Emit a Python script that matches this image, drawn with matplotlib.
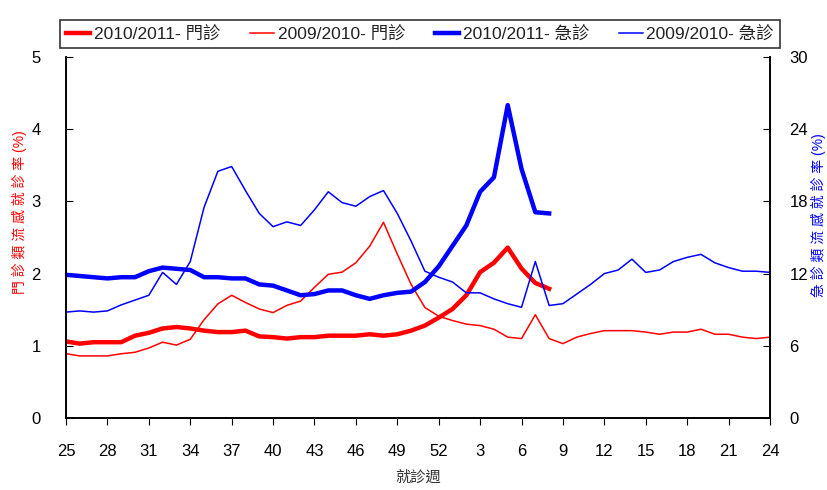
import matplotlib
matplotlib.use("Agg")
import matplotlib.pyplot as plt
from matplotlib import font_manager as fm

weeks = list(range(25, 53)) + list(range(1, 25))
tick_weeks = [25, 28, 31, 34, 37, 40, 43, 46, 49, 52, 3, 6, 9, 12, 15, 18, 21, 24]

op_2010 = [1.06, 1.03, 1.05, 1.05, 1.05, 1.14, 1.18, 1.24, 1.26, 1.24,
           1.21, 1.19, 1.19, 1.21, 1.13, 1.12, 1.10, 1.12, 1.12, 1.14,
           1.14, 1.14, 1.16, 1.14, 1.16, 1.21, 1.28, 1.39, 1.51, 1.70,
           2.02, 2.15, 2.36, 2.07, 1.87, 1.79]
op_2009 = [0.89, 0.86, 0.86, 0.86, 0.89, 0.91, 0.97, 1.05, 1.01, 1.09,
           1.36, 1.58, 1.70, 1.60, 1.51, 1.46, 1.56, 1.62, 1.81, 1.99,
           2.02, 2.15, 2.38, 2.71, 2.27, 1.85, 1.53, 1.41, 1.35, 1.30,
           1.28, 1.23, 1.12, 1.10, 1.43, 1.10, 1.03, 1.12, 1.17, 1.21,
           1.21, 1.21, 1.19, 1.16, 1.19, 1.19, 1.23, 1.16, 1.16, 1.12,
           1.10, 1.12]
ed_2010 = [11.9, 11.8, 11.7, 11.6, 11.7, 11.7, 12.2, 12.5, 12.4, 12.3,
           11.7, 11.7, 11.6, 11.6, 11.1, 11.0, 10.6, 10.2, 10.3, 10.6,
           10.6, 10.2, 9.9, 10.2, 10.4, 10.5, 11.3, 12.6, 14.3, 16.0,
           18.8, 20.0, 26.0, 20.7, 17.1, 17.0]
ed_2009 = [8.8, 8.9, 8.8, 8.9, 9.4, 9.8, 10.2, 12.1, 11.1, 13.0,
           17.5, 20.5, 20.9, 18.9, 17.0, 15.9, 16.3, 16.0, 17.3, 18.8,
           17.9, 17.6, 18.4, 18.9, 17.0, 14.7, 12.2, 11.7, 11.3, 10.4,
           10.4, 9.9, 9.5, 9.2, 13.0, 9.35, 9.5, 10.3, 11.1, 12.0,
           12.3, 13.2, 12.1, 12.3, 13.0, 13.35, 13.6, 12.9, 12.5, 12.2,
           12.2, 12.1]

labels = ["2010/2011- 門診", "2009/2010- 門診", "2010/2011- 急診", "2009/2010- 急診"]

available = {f.name for f in fm.fontManager.ttflist}
lat = "Liberation Sans Narrow" if "Liberation Sans Narrow" in available else "Liberation Sans"
cjk = "Noto Sans CJK TC"
plt.rcParams['font.family'] = [lat, cjk, 'DejaVu Sans']

RED = "#ff0000"
BLUE = "#0000ff"

fig = plt.figure(figsize=(8.27, 4.90), dpi=100)
W, H = 827, 490
left, right, top, bottom = 66, 770, 57, 418
ax = fig.add_axes([left / W, 1 - bottom / H, (right - left) / W, (bottom - top) / H])
ax2 = ax.twinx()

x_all = list(range(len(weeks)))
l1, = ax.plot(x_all[:len(op_2010)], op_2010, color=RED, lw=3.2, solid_joinstyle='round')
l2, = ax.plot(x_all, op_2009, color=RED, lw=1.1)
l3, = ax2.plot(x_all[:len(ed_2010)], ed_2010, color=BLUE, lw=3.2, solid_joinstyle='round')
l4, = ax2.plot(x_all, ed_2009, color=BLUE, lw=1.1)

ax.set_xlim(0, len(weeks) - 1)
ax.set_ylim(0, 5)
ax2.set_ylim(0, 30)
ax.set_yticks([0, 1, 2, 3, 4, 5])
ax2.set_yticks([0, 6, 12, 18, 24, 30])
tpos = [weeks.index(w) if w >= 25 else 28 + w - 1 for w in tick_weeks]
ax.set_xticks(tpos)
ax.set_xticklabels([str(w) for w in tick_weeks])

for a in (ax, ax2):
    a.spines['top'].set_visible(False)
    for s in a.spines.values():
        s.set_linewidth(1.2)
ax.tick_params(axis='x', direction='out', length=5, pad=14, labelsize=12, colors='black')
ax.tick_params(axis='y', direction='in', length=5, pad=18, labelsize=12)
ax2.tick_params(axis='y', direction='in', length=5, pad=14, labelsize=12)

ax.set_xlabel("就診週", fontsize=11, labelpad=8, color='#333333')
ax.set_ylabel("門 診 類 流 感 就 診 率 (%)", fontsize=10, color=RED, va='center', ha='center')
ax.yaxis.set_label_coords((19 - left) / (right - left), (bottom - 212) / (bottom - top))
ax2.set_ylabel("急 診 類 流 感 就 診 率 (%)", fontsize=10, color=BLUE, rotation=90,
               va='center', ha='center')
ax2.yaxis.set_label_coords((818 - left) / (right - left), (bottom - 215) / (bottom - top))

leg = fig.legend([l1, l2, l3, l4], labels, loc='lower left',
                 bbox_to_anchor=(60 / W, 1 - 48 / H, 720 / W, 38 / H),
                 mode='expand', ncol=4, fontsize=12.5, frameon=True, fancybox=False,
                 handlelength=1.4, handletextpad=0.2, columnspacing=0.8,
                 borderaxespad=0.0, borderpad=0.35)
leg.get_frame().set_edgecolor('black')
leg.get_frame().set_linewidth(1.2)
for t in leg.get_texts():
    t.set_color('#222222')

fig.savefig("out.png", dpi=100)
